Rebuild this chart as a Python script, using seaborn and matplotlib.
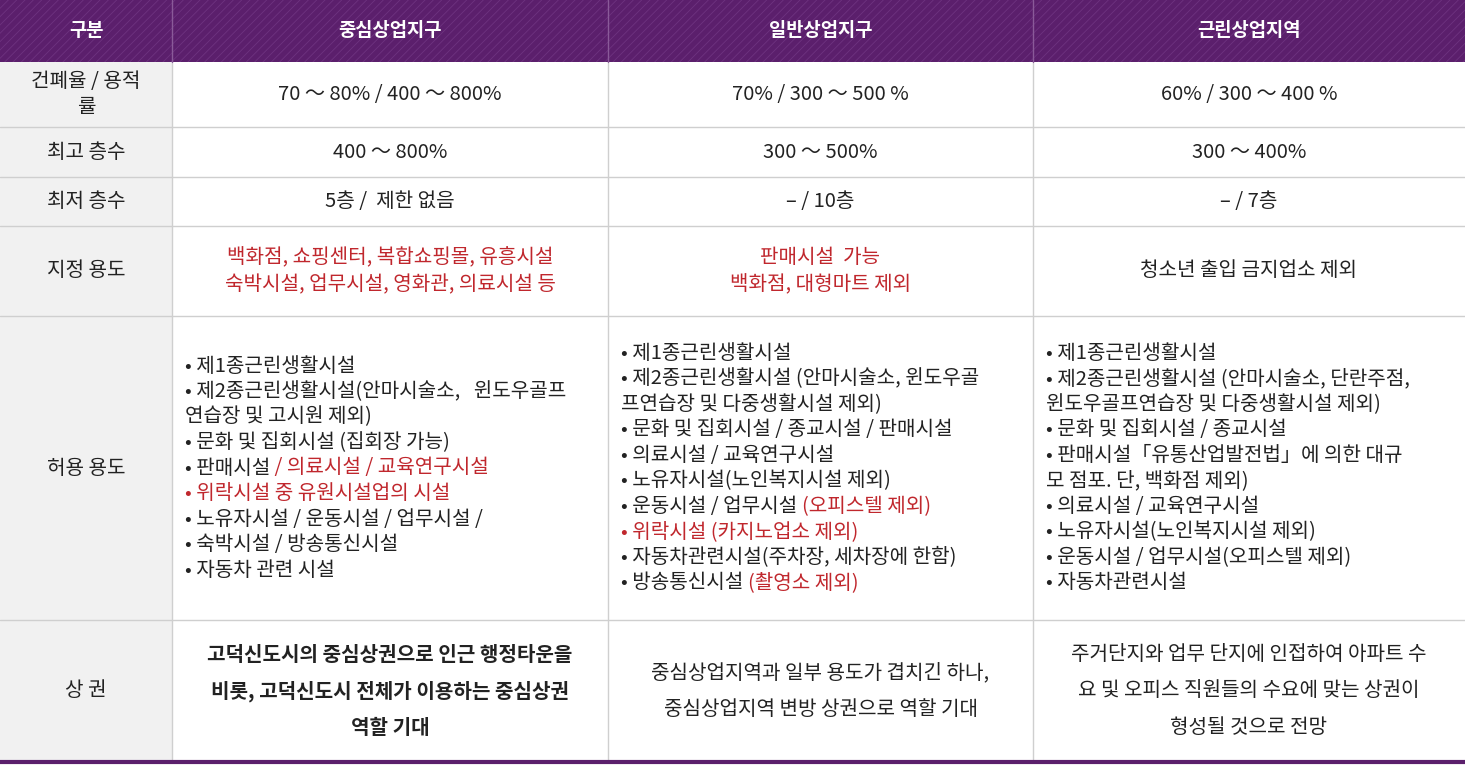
import matplotlib
matplotlib.use("Agg")
import matplotlib.pyplot as plt
from matplotlib.patches import Rectangle
import seaborn as sns

sns.set_style("white")
plt.rcParams["font.family"] = "Noto Sans CJK KR"
plt.rcParams["hatch.linewidth"] = 0.6

R = "#c0272d"
K = "#222222"

headers = ["구분", "중심상업지구", "일반상업지구", "근린상업지역"]
row_labels = ["건폐율 / 용적\n률", "최고 층수", "최저 층수", "지정 용도", "허용 용도", "상 권"]
col_edges = [0, 172, 608, 1033, 1465]
row_edges = [0, 62, 127, 177, 226, 316, 620, 762]

row_bcr = [[[("70 ～ 80% / 400 ～ 800%", K)]], [[("70% / 300 ～ 500 %", K)]], [[("60% / 300 ～ 400 %", K)]]]
row_max = [[[("400 ～ 800%", K)]], [[("300 ～ 500%", K)]], [[("300 ～ 400%", K)]]]
row_min = [[[("5층 /  제한 없음", K)]], [[("– / 10층", K)]], [[("– / 7층", K)]]]
row_designated = [
    [[("백화점, 쇼핑센터, 복합쇼핑몰, 유흥시설", R)], [("숙박시설, 업무시설, 영화관, 의료시설 등", R)]],
    [[("판매시설  가능", R)], [("백화점, 대형마트 제외", R)]],
    [[("청소년 출입 금지업소 제외", K)]],
]
row_allowed = [
    [[("• 제1종근린생활시설", K)],
     [("• 제2종근린생활시설(안마시술소,   윈도우골프", K)],
     [("연습장 및 고시원 제외)", K)],
     [("• 문화 및 집회시설 (집회장 가능)", K)],
     [("• 판매시설", K), (" / 의료시설 / 교육연구시설", R)],
     [("• 위락시설 중 유원시설업의 시설", R)],
     [("• 노유자시설 / 운동시설 / 업무시설 /", K)],
     [("• 숙박시설 / 방송통신시설", K)],
     [("• 자동차 관련 시설", K)]],
    [[("• 제1종근린생활시설", K)],
     [("• 제2종근린생활시설 (안마시술소, 윈도우골", K)],
     [("프연습장 및 다중생활시설 제외)", K)],
     [("• 문화 및 집회시설 / 종교시설 / 판매시설", K)],
     [("• 의료시설 / 교육연구시설", K)],
     [("• 노유자시설(노인복지시설 제외)", K)],
     [("• 운동시설 / 업무시설 ", K), ("(오피스텔 제외)", R)],
     [("• 위락시설 (카지노업소 제외)", R)],
     [("• 자동차관련시설(주차장, 세차장에 한함)", K)],
     [("• 방송통신시설 ", K), ("(촬영소 제외)", R)]],
    [[("• 제1종근린생활시설", K)],
     [("• 제2종근린생활시설 (안마시술소, 단란주점,", K)],
     [("윈도우골프연습장 및 다중생활시설 제외)", K)],
     [("• 문화 및 집회시설 / 종교시설", K)],
     [("• 판매시설「유통산업발전법」에 의한 대규", K)],
     [("모 점포. 단, 백화점 제외)", K)],
     [("• 의료시설 / 교육연구시설", K)],
     [("• 노유자시설(노인복지시설 제외)", K)],
     [("• 운동시설 / 업무시설(오피스텔 제외)", K)],
     [("• 자동차관련시설", K)]],
]
row_market = [
    [[("고덕신도시의 중심상권으로 인근 행정타운을", K)], [("비롯, 고덕신도시 전체가 이용하는 중심상권", K)], [("역할 기대", K)]],
    [[("중심상업지역과 일부 용도가 겹치긴 하나,", K)], [("중심상업지역 변방 상권으로 역할 기대", K)]],
    [[("주거단지와 업무 단지에 인접하여 아파트 수", K)], [("요 및 오피스 직원들의 수요에 맞는 상권이", K)], [("형성될 것으로 전망", K)]],
]
body_rows = [row_bcr, row_max, row_min, row_designated, row_allowed, row_market]
line_gap = [27, 27, 27, 27, 25.5, 36.5]
align = ["center", "center", "center", "center", "left", "center"]

W, H = 1465, 767
fig = plt.figure(figsize=(W / 100, H / 100), dpi=100)
ax = fig.add_axes([0, 0, 1, 1])
ax.set_xlim(0, W)
ax.set_ylim(H, 0)
ax.axis("off")
rend = fig.canvas.get_renderer()
FS = 14.5

ax.add_patch(Rectangle((0, 0), W, row_edges[1], facecolor="#5b1f6c", edgecolor="#6e3380", hatch="////", lw=0))
ax.add_patch(Rectangle((0, row_edges[1]), col_edges[1], row_edges[-1] - row_edges[1], facecolor="#f1f1f1", lw=0))
for y in row_edges[2:-1]:
    ax.plot([0, W], [y, y], color="#cfcfcf", lw=1)
for x in col_edges[1:-1]:
    ax.plot([x, x], [row_edges[1], row_edges[-1]], color="#cfcfcf", lw=1)
    ax.plot([x, x], [0, row_edges[1]], color="#8a5a99", lw=1)
ax.plot([0, W], [row_edges[-1], row_edges[-1]], color="#5b1f6c", lw=3)

for i, h in enumerate(headers):
    ax.text((col_edges[i] + col_edges[i + 1]) / 2, row_edges[1] / 2, h, color="white",
            fontsize=13.5, fontweight="bold", ha="center", va="center")
for r, lab in enumerate(row_labels):
    ax.text(col_edges[1] / 2, (row_edges[r + 1] + row_edges[r + 2]) / 2, lab, color=K,
            fontsize=FS, ha="center", va="center", linespacing=1.3)


def draw_line(segs, x, y, ha, weight):
    arts = []
    for t, c in segs:
        a = ax.text(0, y, t, color=c, fontsize=FS, fontweight=weight, ha="left", va="center")
        arts.append(a)
    widths = [a.get_window_extent(rend).width for a in arts]
    total = sum(widths)
    cx = x - total / 2 if ha == "center" else x
    for a, w in zip(arts, widths):
        a.set_x(cx)
        cx += w


for r, row in enumerate(body_rows):
    yc = (row_edges[r + 1] + row_edges[r + 2]) / 2
    for c, lines in enumerate(row):
        x0, x1 = col_edges[c + 1], col_edges[c + 2]
        x = (x0 + x1) / 2 if align[r] == "center" else x0 + 13
        n = len(lines)
        weight = "bold" if (r == 5 and c == 0) else "normal"
        for k, segs in enumerate(lines):
            y = yc + (k - (n - 1) / 2) * line_gap[r]
            draw_line(segs, x, y, align[r], weight)

fig.savefig("out.png", dpi=100)
